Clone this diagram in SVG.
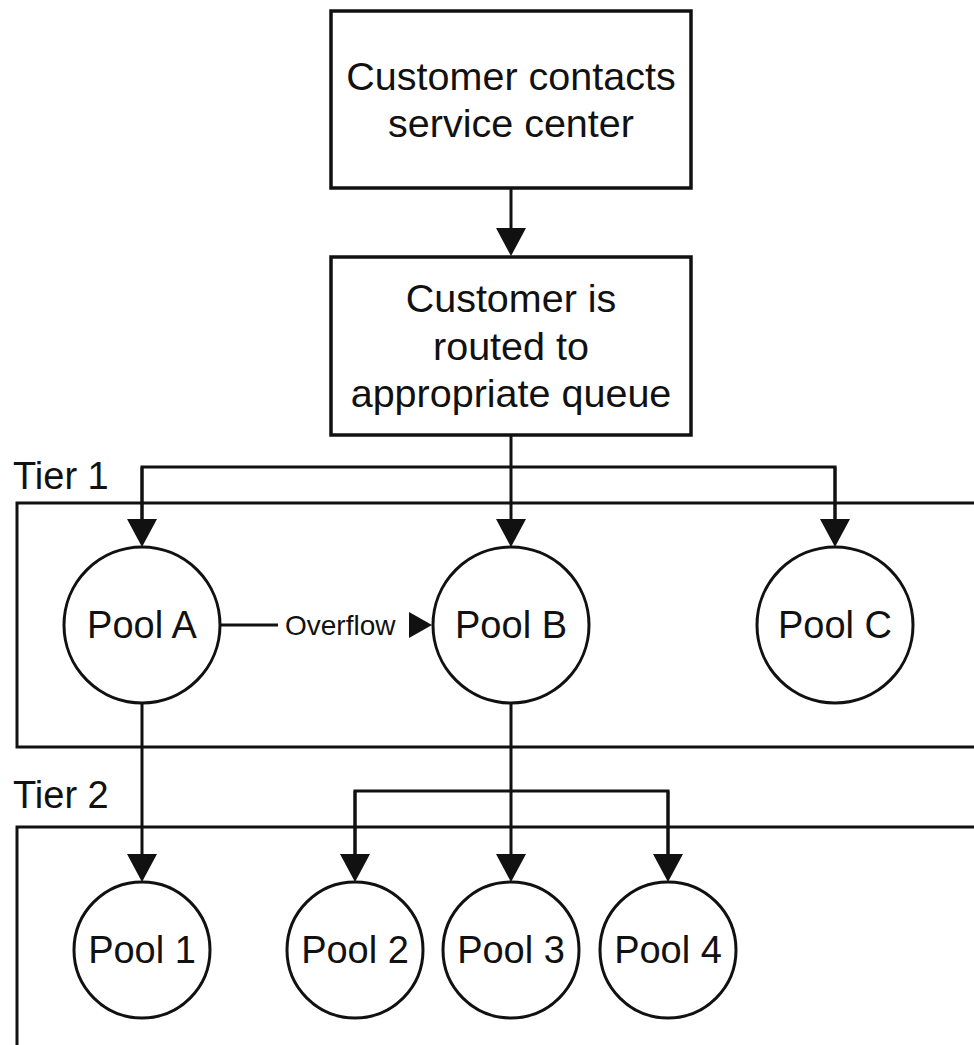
<svg xmlns="http://www.w3.org/2000/svg" width="974" height="1045" viewBox="0 0 974 1045">
<style>
text{font-family:"Liberation Sans",Arial,sans-serif;fill:#111;}
.box{fill:#fff;stroke:#111;stroke-width:3.5;}
.tier{fill:none;stroke:#111;stroke-width:3;}
.pool{fill:#fff;stroke:#111;stroke-width:3;}
.c{fill:none;stroke:#111;stroke-width:3;}
.bt{font-size:39.5px;text-anchor:middle;}
.pt{font-size:38px;text-anchor:middle;}
.lt{font-size:38px;}
.ot{font-size:28px;}
</style>
<defs>
<marker id="ah" markerUnits="userSpaceOnUse" markerWidth="28" markerHeight="30" viewBox="0 0 28 30" refX="0" refY="15" orient="auto">
<path d="M0,0 L28,15 L0,30 z" fill="#111"/>
</marker>
<marker id="ah2" markerUnits="userSpaceOnUse" markerWidth="23" markerHeight="26" viewBox="0 0 23 26" refX="0" refY="13" orient="auto">
<path d="M0,0 L23,13 L0,26 z" fill="#111"/>
</marker>
</defs>
<rect width="974" height="1045" fill="#fff"/>
<g id="tier1">
<rect class="tier" x="17" y="503" width="1010" height="244"/>
<text class="lt" x="13" y="489">Tier 1</text>
</g>
<g id="tier2">
<rect class="tier" x="17" y="827" width="1010" height="300"/>
<text class="lt" x="13" y="808">Tier 2</text>
</g>
<g id="connectors">
<path class="c" d="M511,188 V228" marker-end="url(#ah)"/>
<path class="c" d="M511,435 V519" marker-end="url(#ah)"/>
<path class="c" d="M142,519 V467 H835 V519" />
<path class="c" d="M142,467 V519" marker-end="url(#ah)"/>
<path class="c" d="M835,467 V519" marker-end="url(#ah)"/>
<path class="c" d="M220,625 H278"/>
<path d="M405,625 H409" stroke="none" marker-end="url(#ah2)"/>
<path class="c" d="M142,703 V854" marker-end="url(#ah)"/>
<path class="c" d="M511,703 V854" marker-end="url(#ah)"/>
<path class="c" d="M355,854 V791 H668 V854"/>
<path class="c" d="M355,791 V854" marker-end="url(#ah)"/>
<path class="c" d="M668,791 V854" marker-end="url(#ah)"/>
<text class="ot" x="285" y="635">Overflow</text>
</g>
<g id="contact">
<rect class="box" x="331" y="11" width="360" height="177"/>
<text class="bt" x="511" y="90">Customer contacts</text>
<text class="bt" x="511" y="137">service center</text>
</g>
<g id="routed">
<rect class="box" x="331" y="257" width="360" height="178"/>
<text class="bt" x="511" y="312">Customer is</text>
<text class="bt" x="511" y="359.5">routed to</text>
<text class="bt" x="511" y="407">appropriate queue</text>
</g>
<g id="poolA">
<circle class="pool" cx="142" cy="625" r="78"/>
<text class="pt" x="142" y="638">Pool A</text>
</g>
<g id="poolB">
<circle class="pool" cx="511" cy="625" r="78"/>
<text class="pt" x="511" y="638">Pool B</text>
</g>
<g id="poolC">
<circle class="pool" cx="835" cy="625" r="78"/>
<text class="pt" x="835" y="638">Pool C</text>
</g>
<g id="pool1">
<circle class="pool" cx="142" cy="950" r="68"/>
<text class="pt" x="142" y="963">Pool 1</text>
</g>
<g id="pool2">
<circle class="pool" cx="355" cy="950" r="68"/>
<text class="pt" x="355" y="963">Pool 2</text>
</g>
<g id="pool3">
<circle class="pool" cx="511" cy="950" r="68"/>
<text class="pt" x="511" y="963">Pool 3</text>
</g>
<g id="pool4">
<circle class="pool" cx="668" cy="950" r="68"/>
<text class="pt" x="668" y="963">Pool 4</text>
</g>
</svg>
